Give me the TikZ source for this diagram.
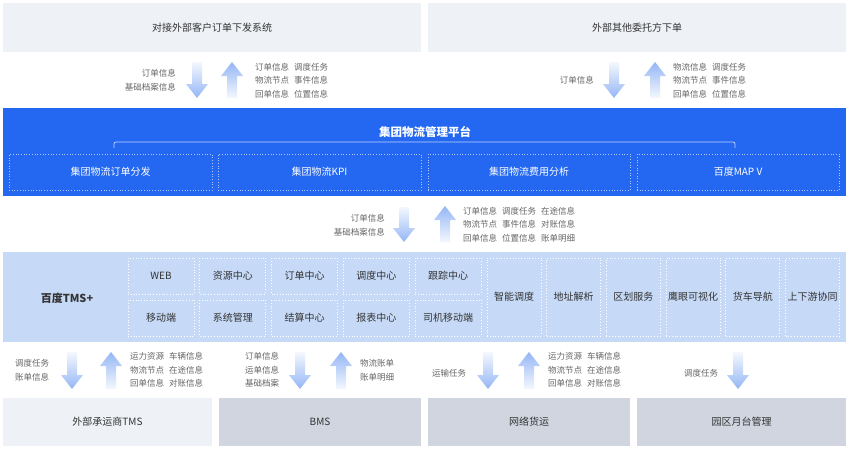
\documentclass[tikz,border=0pt]{standalone}
\usepackage{fontspec}
\setmainfont{Noto Sans CJK SC}
\definecolor{boxlight}{HTML}{EEF1F5}
\definecolor{boxgray}{HTML}{D0D5E0}
\definecolor{platblue}{HTML}{2468F2}
\definecolor{tmsblue}{HTML}{C6DAF7}
\definecolor{arrdark}{HTML}{94B6F5}
\definecolor{arrlight}{HTML}{F4F8FE}
\definecolor{lbltext}{HTML}{666666}
\definecolor{ttltext}{HTML}{333333}
\tikzset{
  sysbox/.style={draw=none, inner sep=0, text=ttltext, font=\fontsize{10}{12}\selectfont},
  lightbox/.style={sysbox, fill=boxlight},
  graybox/.style={sysbox, fill=boxgray},
  subbox/.style={draw=white, draw opacity=0.65, dotted, line width=0.7pt, inner sep=0, text=white, font=\fontsize{10}{12}\selectfont},
  modbox/.style={draw=white, dotted, line width=0.8pt, inner sep=0, text=ttltext, font=\fontsize{10}{12}\selectfont},
  lbl/.style={inner sep=0, text=lbltext, font=\fontsize{8.5}{13.7}\selectfont},
}
\newcommand{\dnarr}[3]{%
  \shade[top color=arrlight, bottom color=arrdark] (#1-5,#2) -- (#1+5,#2) -- (#1+5,#3-14) -- (#1+11,#3-14) -- (#1,#3) -- (#1-11,#3-14) -- (#1-5,#3-14) -- cycle;}
\newcommand{\uparr}[3]{%
  \shade[top color=arrdark, bottom color=arrlight] (#1-5,#3) -- (#1+5,#3) -- (#1+5,#2+14) -- (#1+11,#2+14) -- (#1,#2) -- (#1-11,#2+14) -- (#1-5,#2+14) -- cycle;}
\begin{document}
\begin{tikzpicture}[x=1pt,y=-1pt]
\useasboundingbox (0,0) rectangle (850,450);
\fill[white] (0,0) rectangle (850,450);

% top systems
\node[lightbox, minimum width=418, minimum height=49] (extsys) at (212,27.5) {对接外部客户订单下发系统};
\node[lightbox, minimum width=418, minimum height=49] (othsys) at (637,27.5) {外部其他委托方下单};

% top arrows
\dnarr{197}{62}{98}
\uparr{232}{62}{98}
\dnarr{614}{62}{98}
\uparr{655}{62}{98}
\node[lbl, anchor=east, align=right] (l1) at (176,80) {订单信息\\基础档案信息};
\node[lbl, anchor=west, align=left] (l2) at (255,80.5) {订单信息\hspace{5pt}调度任务\\物流节点\hspace{5pt}事件信息\\回单信息\hspace{5pt}位置信息};
\node[lbl, anchor=east] (l3) at (594,80) {订单信息};
\node[lbl, anchor=west, align=left] (l4) at (673,80.5) {物流信息\hspace{5pt}调度任务\\物流节点\hspace{5pt}事件信息\\回单信息\hspace{5pt}位置信息};

% platform band
\node[fill=platblue, minimum width=843, minimum height=88, inner sep=0] (plat) at (424.5,152) {};
\node[inner sep=0, text=white, font=\fontsize{11.5}{13}\selectfont\bfseries] (plattitle) at (425,132) {集团物流管理平台};
\draw[white, draw opacity=0.7, line width=0.8pt, rounded corners=2pt] (114,148) -- (114,142) -- (735,142) -- (735,148);
\node[subbox, minimum width=203, minimum height=36] (p1) at (110.5,172) {集团物流订单分发};
\node[subbox, minimum width=203, minimum height=36] (p2) at (319.5,172) {集团物流KPI};
\node[subbox, minimum width=202, minimum height=36] (p3) at (529,172) {集团物流费用分析};
\node[subbox, minimum width=202, minimum height=36] (p4) at (738,172) {百度MAP V};

% middle arrows
\dnarr{404}{207}{242}
\uparr{445}{206}{242}
\node[lbl, anchor=east, align=right] (l5) at (385,225) {订单信息\\基础档案信息};
\node[lbl, anchor=west, align=left] (l6) at (463,224.5) {订单信息\hspace{5pt}调度任务\hspace{5pt}在途信息\\物流节点\hspace{5pt}事件信息\hspace{5pt}对账信息\\回单信息\hspace{5pt}位置信息\hspace{5pt}账单明细};

% TMS band
\node[fill=tmsblue, minimum width=843, minimum height=90, inner sep=0] (tms) at (424.5,297) {};
\node[inner sep=0, text=ttltext, font=\fontsize{11}{13}\selectfont\bfseries] (tmstitle) at (67,298) {百度TMS+};
\foreach \t [count=\i from 0] in {WEB,资源中心,订单中心,调度中心,跟踪中心}
  \node[modbox, minimum width=66, minimum height=36] (ma\i) at (161+71.75*\i,276) {\t};
\foreach \t [count=\i from 0] in {移动端,系统管理,结算中心,报表中心,司机移动端}
  \node[modbox, minimum width=66, minimum height=36] (mb\i) at (161+71.75*\i,318) {\t};
\foreach \t [count=\i from 0] in {智能调度,地址解析,区划服务,鹰眼可视化,货车导航,上下游协同}
  \node[modbox, minimum width=54, minimum height=78] (mc\i) at (514+59.7*\i,297) {\t};

% bottom arrows
\dnarr{72}{352}{389}
\uparr{111}{352}{389}
\dnarr{300}{352}{389}
\uparr{341}{352}{389}
\dnarr{488}{352}{389}
\uparr{529}{352}{389}
\dnarr{738}{352}{389}
\node[lbl, anchor=west, align=left] (l7) at (15,370.5) {调度任务\\账单信息};
\node[lbl, anchor=west, align=left] (l8) at (130,370) {运力资源\hspace{5pt}车辆信息\\物流节点\hspace{5pt}在途信息\\回单信息\hspace{5pt}对账信息};
\node[lbl, anchor=west, align=left] (l9) at (245,370) {订单信息\\运单信息\\基础档案};
\node[lbl, anchor=west, align=left] (l10) at (360,370.5) {物流账单\\账单明细};
\node[lbl, anchor=west] (l11) at (432,373) {运输任务};
\node[lbl, anchor=west, align=left] (l12) at (548,370) {运力资源\hspace{5pt}车辆信息\\物流节点\hspace{5pt}在途信息\\回单信息\hspace{5pt}对账信息};
\node[lbl, anchor=west] (l13) at (684,373) {调度任务};

% bottom systems
\node[lightbox, minimum width=209, minimum height=48] (b1) at (107.5,422) {外部承运商TMS};
\node[graybox, minimum width=202, minimum height=48] (b2) at (320,422) {BMS};
\node[graybox, minimum width=202, minimum height=48] (b3) at (529,422) {网络货运};
\node[graybox, minimum width=209, minimum height=48] (b4) at (741.5,422) {园区月台管理};
\end{tikzpicture}
\end{document}
